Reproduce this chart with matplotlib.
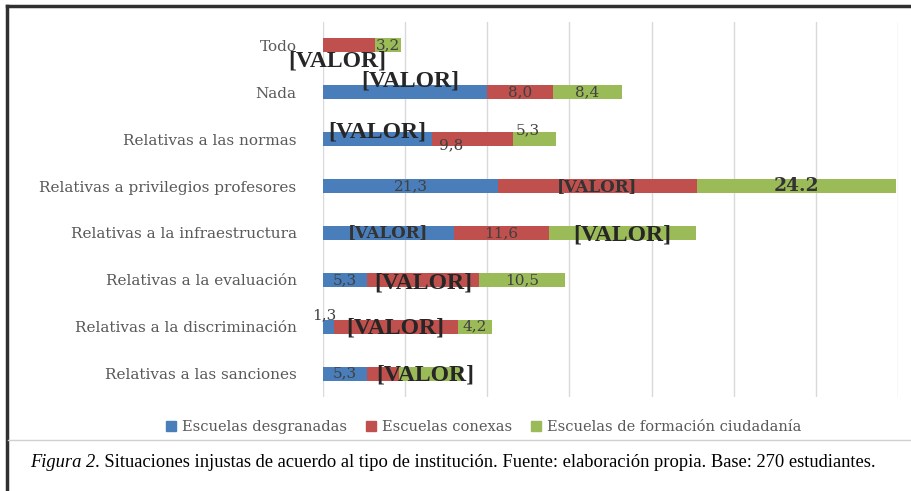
import matplotlib
matplotlib.use("Agg")
import matplotlib.pyplot as plt
from matplotlib.lines import Line2D
from matplotlib.patches import Patch
from matplotlib.text import Annotation

categories = ["Todo", "Nada", "Relativas a las normas",
              "Relativas a privilegios profesores",
              "Relativas a la infraestructura", "Relativas a la evaluación",
              "Relativas a la discriminación", "Relativas a las sanciones"]
series_names = ["Escuelas desgranadas", "Escuelas conexas",
                "Escuelas de formación ciudadanía"]
desgranadas = [0.0, 20.0, 13.3, 21.3, 15.9, 5.3, 1.3, 5.3]
conexas = [6.3, 8.0, 9.8, 24.2, 11.6, 13.7, 15.1, 4.0]
ciudadania = [3.2, 8.4, 5.3, 24.2, 17.9, 10.5, 4.2, 7.6]

labels_desgranadas = ["[VALOR]", "[VALOR]", "[VALOR]", "21,3", "[VALOR]", "5,3", "1,3", "5,3"]
labels_conexas = ["", "8,0", "9,8", "[VALOR]", "11,6", "[VALOR]", "[VALOR]", ""]
labels_ciudadania = ["3,2", "8,4", "5,3", "24.2", "[VALOR]", "10,5", "4,2", "[VALOR]"]

colors = ["#4a7ebb", "#c0504d", "#9bbb59"]

# text styles for the data labels
styles = {
    "small": dict(family="DejaVu Serif", fontsize=11, color="#404040"),
    "mid": dict(family="DejaVu Serif", fontsize=12, color="#333333", fontweight="bold"),
    "big": dict(family="Liberation Serif", fontsize=17, color="#262626", fontweight="bold"),
    "num": dict(family="DejaVu Serif", fontsize=13.5, color="#333333", fontweight="bold"),
}
# (series, category) -> (style, dx in data units, dy in category units)
label_fmt = {
    (0, 0): ("big", 1.7, 0.33), (0, 1): ("big", 0.6, -0.25), (0, 2): ("big", 0.0, -0.15),
    (0, 4): ("mid", 0, 0), (0, 6): ("small", -0.5, -0.25),
    (1, 2): ("small", -2.6, 0.14), (1, 3): ("mid", 0, 0),
    (1, 5): ("big", 0, 0.06), (1, 6): ("big", 0, 0.03),
    (2, 2): ("small", -0.8, -0.2), (2, 3): ("num", 0, 0),
    (2, 4): ("big", 0, 0.05), (2, 7): ("big", -0.6, 0.03),
}

fig = plt.figure(figsize=(9.12, 4.91), dpi=100)
ax = fig.add_axes([323 / 912, 1 - 397 / 491, 575 / 912, 375 / 491])

data = [desgranadas, conexas, ciudadania]
all_labels = [labels_desgranadas, labels_conexas, labels_ciudadania]
ypos = list(range(len(categories)))
left = [0.0] * len(categories)
for s, (vals, lbls) in enumerate(zip(data, all_labels)):
    ax.barh(ypos, vals, left=left, height=0.3, color=colors[s],
            label=series_names[s], zorder=2)
    for i, (v, t) in enumerate(zip(vals, lbls)):
        if not t:
            continue
        key, dx, dy = label_fmt.get((s, i), ("small", 0, 0))
        ax.text(left[i] + v / 2 + dx, i + dy, t, ha="center", va="center",
                zorder=5, **styles[key])
    left = [l + v for l, v in zip(left, vals)]

ax.set_xlim(0, 70)
ax.set_ylim(7.5, -0.5)
ax.set_xticks(range(0, 71, 10))
ax.set_xticklabels([])
ax.tick_params(length=0)
ax.grid(axis="x", color="#d9d9d9", linewidth=1, zorder=0)
for sp in ax.spines.values():
    sp.set_visible(False)
ax.set_yticks(ypos)
ax.set_yticklabels(categories, family="DejaVu Serif", fontsize=11, color="#595959")
ax.tick_params(axis="y", pad=19)

handles = [Patch(color=c) for c in colors]
fig.legend(handles, series_names, loc="center", bbox_to_anchor=(0.53, 0.13),
           ncol=3, frameon=False, handlelength=0.7, handleheight=0.7,
           handletextpad=0.4, columnspacing=1.3,
           prop=dict(family="DejaVu Serif", size=10.5))
for t in fig.legends[0].get_texts():
    t.set_color("#595959")

# frame and separator
fig.add_artist(Line2D([7 / 912, 7 / 912], [0, 1 - 6 / 491], color="#303030", linewidth=2.5))
fig.add_artist(Line2D([7 / 912, 1], [1 - 6 / 491, 1 - 6 / 491], color="#303030", linewidth=2.5))
fig.add_artist(Line2D([8 / 912, 1], [1 - 440 / 491, 1 - 440 / 491], color="#d0d0d0", linewidth=1))

cap1 = fig.text(30 / 912, 0.058, "Figura 2", family="Liberation Serif", style="italic",
                fontsize=13.3, va="center", ha="left")
fig.add_artist(Annotation(
    ". Situaciones injustas de acuerdo al tipo de institución. Fuente: elaboración propia. "
    "Base: 270 estudiantes.", xy=(1, 0), xycoords=cap1, va="bottom", ha="left",
    family="Liberation Serif", fontsize=13.3))

fig.savefig("out.png", dpi=100)
